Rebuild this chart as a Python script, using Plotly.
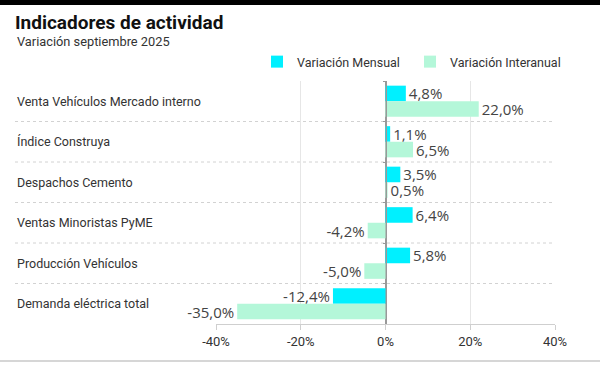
import plotly.graph_objects as go

categories = [
    "Venta Vehículos Mercado interno",
    "Índice Construya",
    "Despachos Cemento",
    "Ventas Minoristas PyME",
    "Producción Vehículos",
    "Demanda eléctrica total",
]
mensual = [4.8, 1.1, 3.5, 6.4, 5.8, -12.4]
interanual = [22.0, 6.5, 0.5, -4.2, -5.0, -35.0]
x_ticks = [-40, -20, 0, 20, 40]
x_tick_labels = [f"{v}%" for v in x_ticks]


def fmt(v):
    return f"{v:.1f}".replace(".", ",") + "%"


W, H = 600, 365
ML, MR, MT, MB = 216, 45, 81, 41
PW, PH = W - ML - MR, H - MT - MB


def px(xp):
    return (xp - ML) / PW


def py(yp):
    return (H - MB - yp) / PH


FONT = "Roboto"
LABEL_FONT = "Open Sans"
CYAN = "#00F0FF"
MINT = "#B4F7D9"

fig = go.Figure()
fig.add_trace(go.Bar(
    y=categories, x=mensual, orientation="h", name="Variación Mensual",
    marker=dict(color=CYAN, line=dict(width=0)),
    text=[fmt(v) for v in mensual], texttemplate="%{text}", textposition="outside",
    constraintext="none",
    textfont=dict(size=15, color="#444", family=LABEL_FONT), cliponaxis=False,
))
fig.add_trace(go.Bar(
    y=categories, x=interanual, orientation="h", name="Variación Interanual",
    marker=dict(color=MINT, line=dict(width=0)),
    text=[fmt(v) for v in interanual], texttemplate="%{text}", textposition="outside",
    constraintext="none",
    textfont=dict(size=15, color="#444", family=LABEL_FONT), cliponaxis=False,
))

shapes = []
shapes.append(dict(type="rect", xref="paper", yref="paper", x0=px(0), x1=px(W),
                   y0=py(5), y1=py(-1), fillcolor="#000", line=dict(width=0), layer="above"))
shapes.append(dict(type="line", xref="paper", yref="paper", x0=px(0), x1=px(W),
                   y0=py(361), y1=py(361), line=dict(color="#c8c8c8", width=1.5)))
for i in range(len(categories) - 1):
    shapes.append(dict(type="line", xref="paper", yref="y", x0=px(15), x1=1,
                       y0=i + 0.5, y1=i + 0.5,
                       line=dict(color="#d2d2d2", width=1, dash="3px,3px"), layer="below"))

annotations = []
for c in categories:
    annotations.append(dict(xref="paper", yref="y", x=px(15), y=c, text=c,
                            xanchor="left", yanchor="middle", showarrow=False,
                            font=dict(size=12.5, color="#333", family=FONT)))
annotations.append(dict(xref="paper", yref="paper", x=px(15), y=py(42),
                        text="Variación septiembre 2025", xanchor="left", yanchor="middle",
                        showarrow=False, font=dict(size=12.8, color="#333", family=FONT)))

fig.update_layout(
    width=W, height=H,
    margin=dict(l=ML, r=MR, t=MT, b=MB),
    paper_bgcolor="white", plot_bgcolor="white",
    barmode="group", bargap=0.23, bargroupgap=0,
    title=dict(text="<b>Indicadores de actividad</b>", x=15 / W, xref="container",
               xanchor="left", y=1 - 22 / H, yref="container", yanchor="middle",
               font=dict(size=19, color="#111", family=FONT)),
    legend=dict(orientation="h", x=px(257), y=py(62), xanchor="left", yanchor="middle",
                font=dict(size=12.5, color="#333", family=FONT), entrywidth=108,
                bgcolor="rgba(0,0,0,0)", traceorder="normal"),
    xaxis=dict(range=[-40, 40], tickvals=x_ticks, ticktext=x_tick_labels,
               showgrid=True, gridcolor="#e6e6e6", gridwidth=1,
               zeroline=True, zerolinecolor="#999", zerolinewidth=1,
               showline=True, linecolor="#cfcfcf", linewidth=1,
               ticks="outside", ticklen=5, tickcolor="#cfcfcf",
               tickfont=dict(size=13, color="#333", family=FONT), fixedrange=True),
    yaxis=dict(autorange="reversed", showticklabels=False, showgrid=False,
               anchor="free", position=0.5, showline=True, linecolor="#999", linewidth=1,
               ticks="outside", tickson="boundaries", ticklen=3, tickcolor="#999",
               fixedrange=True),
    shapes=shapes, annotations=annotations,
    font=dict(family=FONT),
)

fig.write_html("out.html", config={"displayModeBar": False},
               post_script="document.body.style.margin='0';document.body.style.overflow='hidden';")
